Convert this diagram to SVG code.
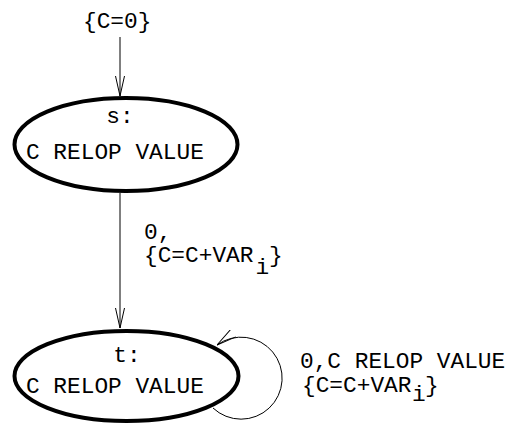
<svg xmlns="http://www.w3.org/2000/svg" width="511" height="425" viewBox="0 0 511 425">
<style>
  text { font-family: "Liberation Mono", "Courier New", monospace; font-size: 22.8px; fill: #000; }
  .node { fill: #fff; stroke: #000; stroke-width: 4; }
  .edge { fill: none; stroke: #000; stroke-width: 1; marker-end: url(#arr); }
</style>
<defs>
  <marker id="arr" markerUnits="userSpaceOnUse" markerWidth="20" markerHeight="10" viewBox="0 0 20 10" refX="20" refY="5" orient="auto">
    <path d="M0,0.5 L20,5 L0,9.5" fill="none" stroke="#000" stroke-width="1"/>
  </marker>
</defs>
<g id="connectors">
  <g id="init-edge">
    <path class="edge" d="M120,37 L120,96"/>
    <text x="83" y="28">{C=0}</text>
  </g>
  <g id="edge-s-t">
    <path class="edge" d="M120,193 L120,328"/>
    <text x="144" y="239">0,</text>
    <text x="144" y="262">{C=C+VAR</text>
    <text x="255.5" y="274">i</text>
    <text x="269" y="262">}</text>
  </g>
  <g id="edge-t-t">
    <path class="edge" d="M213,408 A41,41 0 1 0 217,345"/>
    <text x="300" y="368">0,C RELOP VALUE</text>
    <text x="302" y="392">{C=C+VAR</text>
    <text x="412" y="401">i</text>
    <text x="425" y="392">}</text>
  </g>
</g>
<g id="node-s">
  <ellipse class="node" cx="126" cy="144.5" rx="111.5" ry="46.5"/>
  <text x="120" y="123" text-anchor="middle">s:</text>
  <text x="26" y="159">C RELOP VALUE</text>
</g>
<g id="node-t">
  <ellipse class="node" cx="126.5" cy="376" rx="112" ry="45"/>
  <text x="127" y="362" text-anchor="middle">t:</text>
  <text x="26" y="393">C RELOP VALUE</text>
</g>
</svg>
